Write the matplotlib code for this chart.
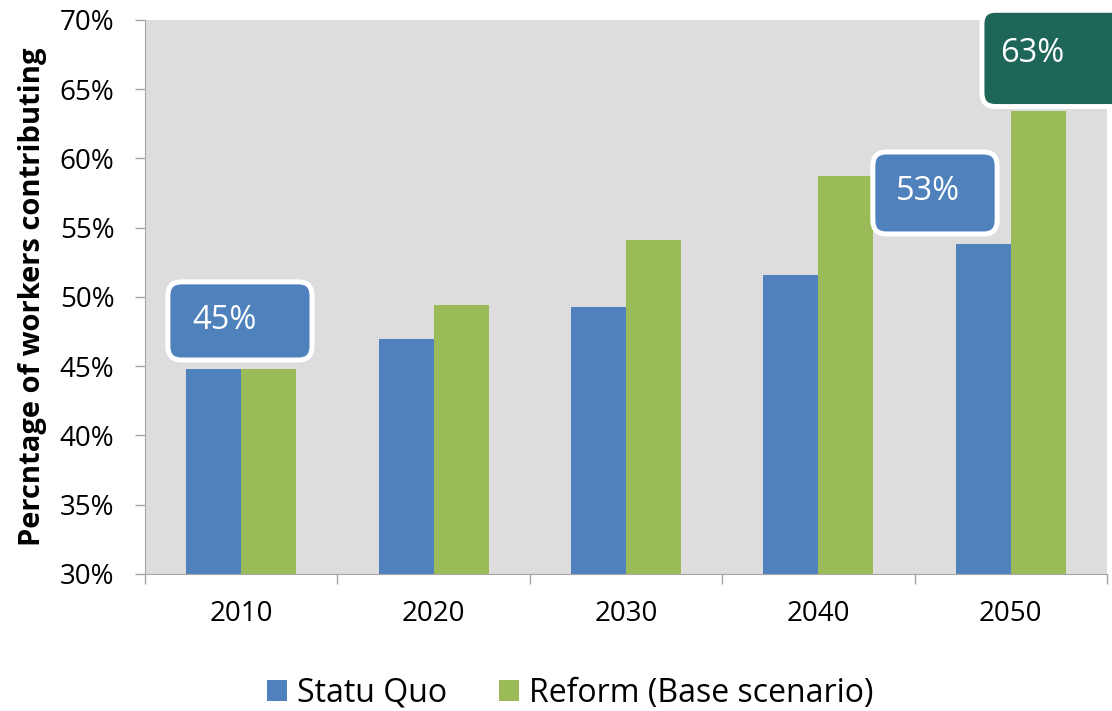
import matplotlib
matplotlib.use("Agg")
import matplotlib.pyplot as plt
import matplotlib.patches as patches
import numpy as np

years = ["2010", "2020", "2030", "2040", "2050"]
statu_quo = [44.8, 47.0, 49.3, 51.6, 53.8]
reform = [44.8, 49.4, 54.1, 58.7, 63.4]
callouts = [("45%", 0, "#4F81BD"), ("53%", 3, "#4F81BD"), ("63%", 4, "#1E6658")]

plt.rcParams['font.family'] = ['Open Sans', 'DejaVu Sans']

fig = plt.figure(figsize=(11.12, 7.11), dpi=100)
ax = fig.add_axes([0.1304, 0.1927, 0.8651, 0.7792])
ax.set_facecolor("#DDDDDD")

x = np.arange(len(years))
w = 0.286
ax.bar(x - w/2, statu_quo, w, color="#4F81BD", label="Statu Quo", zorder=2)
ax.bar(x + w/2, reform, w, color="#9BBB59", label="Reform (Base scenario)", zorder=2)

ax.set_xlim(-0.5, len(years) - 0.5)
ax.set_ylim(30, 70)
ax.set_yticks(range(30, 71, 5))
ax.set_yticklabels(["%d%%" % v for v in range(30, 71, 5)])
ax.set_xticks(x)
ax.set_xticklabels(years)
ax.set_xticks(np.arange(-0.5, len(years)), minor=True)
ax.tick_params(axis="x", which="major", length=0, pad=19, labelsize=20)
ax.tick_params(axis="x", which="minor", length=7, color="#A6A6A6", width=1)
ax.tick_params(axis="y", length=7, color="#A6A6A6", width=1, pad=15, labelsize=20)
for s in ["top", "right"]:
    ax.spines[s].set_visible(False)
for s in ["left", "bottom"]:
    ax.spines[s].set_color("#A6A6A6")

ax.set_ylabel("Percntage of workers contributing", fontsize=21, fontweight="bold", labelpad=9)

# callout boxes: (x left, y bottom, width, height) in data units
box_geom = {0: (-0.381, 45.45, 0.749, 5.64),
            3: (3.283, 54.55, 0.646, 5.92),
            4: (3.85, 63.75, 1.0, 6.95)}
text_pos = {0: (-0.256, 48.27), 3: (3.403, 57.6), 4: (3.944, 67.6)}
aspect = (192.4 / 13.85)
for label, idx, col in callouts:
    bx, by, bw, bh = box_geom[idx]
    p = patches.FancyBboxPatch((bx, by), bw, bh,
                               boxstyle="round,pad=0,rounding_size=0.07",
                               mutation_aspect=aspect,
                               facecolor=col, edgecolor="white", linewidth=3.6,
                               clip_on=False, zorder=4)
    ax.add_patch(p)
    tx, ty = text_pos[idx]
    ax.text(tx, ty, label, color="white", fontsize=23.5, ha="left", va="center",
            zorder=5, clip_on=False)

ax.legend(loc="center", bbox_to_anchor=(0.442, -0.215), ncol=2, frameon=False,
          fontsize=23, handlelength=0.63, handleheight=0.63, handletextpad=0.31,
          columnspacing=1.6)

fig.savefig("out.png", dpi=100)
